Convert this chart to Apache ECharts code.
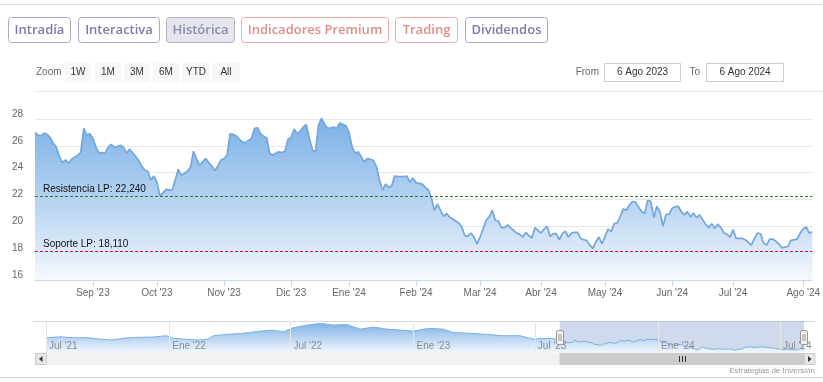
<!DOCTYPE html>
<html><head><meta charset="utf-8">
<script src="https://cdn.jsdelivr.net/npm/echarts@6/dist/echarts.min.js"></script>
<style>html,body{margin:0;padding:0;background:#fff}#c{width:823px;height:382px}</style>
</head><body><div id="c"></div>
<script>
// ---------- DATA ----------
const startDate = '2023-08-07';
const endDate = '2024-08-06';
const holidays = ['2023-12-25','2023-12-26','2024-01-01','2024-03-29','2024-04-01','2024-05-01'];
const monthNames = ['Ene','Feb','Mar','Abr','May','Jun','Jul','Ago','Sep','Oct','Nov','Dic'];
const prices = [
27.0,26.8,26.75,26.95,26.85,26.6,26.2,25.9,25.2,24.75,
24.95,24.7,25.0,25.15,25.3,25.5,27.3,26.8,26.9,26.55,
25.9,25.45,25.5,25.45,25.9,26.1,25.9,25.95,26.05,25.9,
25.45,25.75,25.5,25.2,24.9,24.5,24.2,24.1,23.45,23.75,
23.3,22.25,22.5,22.75,22.7,22.7,23.45,24.25,23.8,23.95,
24.1,24.4,25.6,25.0,24.55,24.8,25.05,24.75,24.5,24.15,
24.5,24.95,25.05,25.3,26.9,26.85,26.75,26.5,26.3,26.2,
26.4,26.55,27.3,27.35,26.9,26.7,26.6,25.45,25.3,25.45,
25.55,25.5,25.6,26.5,26.6,27.25,26.9,27.1,27.4,27.6,
26.55,25.7,25.55,27.55,28.05,27.6,27.3,27.35,27.4,27.3,
27.7,27.6,27.5,27.0,25.95,25.45,25.55,25.2,24.8,25.05,
25.0,24.9,24.45,23.45,22.7,23.15,22.9,23.0,23.75,23.7,
23.7,23.7,23.75,23.3,23.6,23.25,23.2,23.15,22.9,22.75,
22.15,21.2,21.65,21.2,20.75,20.95,20.7,20.55,20.4,20.25,
19.95,19.3,19.25,19.5,19.2,18.7,19.2,19.8,20.45,20.7,
21.2,20.45,20.4,19.9,19.9,20.1,19.9,19.7,19.5,19.4,
19.2,19.55,19.3,19.15,19.9,19.7,19.5,19.8,20.0,19.25,
19.45,19.45,19.0,19.45,19.65,19.2,19.5,19.55,19.55,19.1,
19.0,18.95,18.6,18.35,18.85,19.2,18.7,19.25,19.8,19.6,
20.2,20.25,20.75,21.3,21.2,21.6,21.85,21.8,21.45,21.1,
20.95,21.95,21.85,20.65,21.5,21.1,20.0,20.9,20.9,21.35,
21.45,21.5,21.1,20.85,21.1,20.7,21.0,20.65,20.85,20.5,
20.15,19.9,20.2,19.85,20.15,19.9,19.5,19.4,19.2,19.75,
19.1,19.1,19.1,19.0,18.8,18.6,19.1,19.5,19.45,18.75,
18.6,19.05,19.05,18.9,18.7,18.4,18.45,18.5,18.95,19.0,
19.05,19.5,19.8,19.95,19.5,19.6
];
const yMin = 16, yMax = 28, yInterval = 2;
const resistance = 22.24;
const support = 18.11;
const resistanceName = 'Resistencia LP';
const supportName = 'Soporte LP';
// navigator (long history, read from the small overview)
const histDates = ['2021-07-02','2021-07-22','2021-08-10','2021-08-31','2021-09-20','2021-10-07','2021-10-24','2021-11-14','2021-12-08','2021-12-28',
'2022-01-07','2022-01-27','2022-02-16','2022-02-28','2022-03-08','2022-03-28','2022-04-21','2022-05-17','2022-06-05','2022-06-20',
'2022-07-05','2022-07-26','2022-08-15','2022-09-03','2022-09-23','2022-10-13','2022-11-02','2022-11-22','2022-12-12','2023-01-01',
'2023-01-16','2023-01-26','2023-02-14','2023-03-01','2023-03-27','2023-04-21','2023-05-15','2023-06-09','2023-06-29','2023-07-20','2023-08-04'];
const histValues = [29.1,29.9,29.1,29.1,27.9,27.1,28.6,29.4,29.7,30.8,
28.6,27.7,27.1,27.9,30.8,31.9,32.8,34.7,35.6,34.1,
37.5,39.8,41.3,39.8,40.4,36.4,38.1,36.4,35.6,34.7,
36.4,37.0,36.4,33.6,32.8,31.9,30.8,30.8,27.9,28.6,27.9];
const navStart = '2021-07-01';
const navYMin = 16.1, navYMax = 43.3;
const navTickDates = ['2021-07-01','2022-01-01','2022-07-01','2023-01-01','2023-07-01','2024-01-01','2024-07-01'];
const navTickLabels = ["Jul '21","Ene '22","Jul '22","Ene '23","Jul '23","Ene '24","Jul '24"];
const tabs = ['Intradía','Interactiva','Histórica','Indicadores Premium','Trading','Dividendos'];
const tabKinds = ['normal','normal','active','premium','premium','normal'];
const zoomButtons = ['1W','1M','3M','6M','YTD','All'];
const fromLabel = 'From', toLabel = 'To';
const fromText = '6 Ago 2023', toText = '6 Ago 2024';
const credits = 'Estrategias de Inversión';

// ---------- HELPERS ----------
const FONT = '"Liberation Sans", Arial, sans-serif';
function pad(n){return n<10?'0'+n:''+n;}
function fmt(d){return d.getUTCFullYear()+'-'+pad(d.getUTCMonth()+1)+'-'+pad(d.getUTCDate());}
function toTs(s){return new Date(+s.slice(0,4), +s.slice(5,7)-1, +s.slice(8,10)).getTime();}
const dates = [];
for (let d = new Date(startDate+'T00:00:00Z'); fmt(d) <= endDate; d.setUTCDate(d.getUTCDate()+1)) {
  const wd = d.getUTCDay(), s = fmt(d);
  if (wd === 0 || wd === 6 || holidays.includes(s)) continue;
  dates.push(s);
}
function isMonthStart(i){ return i > 0 && dates[i].slice(5,7) !== dates[i-1].slice(5,7); }
function monthLabel(s){ return monthNames[+s.slice(5,7)-1] + " '" + s.slice(2,4); }
function fmtLevel(v){ return v.toFixed(3).replace('.', ','); }

const navData = histDates.map((s,i)=>[toTs(s), histValues[i]])
  .concat(dates.map((s,i)=>[toTs(s), prices[i]]));

const chart = echarts.init(document.getElementById('c'));

// ---------- STATIC UI ----------
const tabGeom = [[8,62],[78,81],[166,68],[241,147],[395,62],[465,82]];
const tabStyle = {
  normal: {fill:'#ffffff', stroke:'#a9a7cb', text:'#7d7aa8'},
  active: {fill:'#e5e5ec', stroke:'#b2b1c8', text:'#8d8cab'},
  premium:{fill:'#ffffff', stroke:'#ebaaa8', text:'#e38b89'}
};
const g = [];
g.push({type:'line', shape:{x1:0,y1:4.5,x2:823,y2:4.5}, style:{stroke:'#dddddd', lineWidth:1}});
tabs.forEach((t,i)=>{
  const [x,w] = tabGeom[i], st = tabStyle[tabKinds[i]];
  g.push({type:'rect', shape:{x:x+0.5,y:17.5,width:w,height:25,r:3}, style:{fill:st.fill, stroke:st.stroke, lineWidth:1}});
  g.push({type:'text', x:x+w/2+0.5, y:30.5, style:{text:t, fill:st.text, fontSize:13, fontWeight:600, fontFamily:'"Open Sans", sans-serif', align:'center', verticalAlign:'middle', textAlign:'center', textVerticalAlign:'middle'}});
});
g.push({type:'text', x:36, y:72.5, style:{text:'Zoom', fill:'#666666', fontSize:10, fontFamily:FONT, verticalAlign:'middle', textVerticalAlign:'middle'}});
const zbCenters = [78,108,137,166,196,226];
zoomButtons.forEach((t,i)=>{
  const w = t.length > 2 ? 28 : 26;
  g.push({type:'rect', shape:{x:zbCenters[i]-w/2,y:63,width:w,height:19,r:2}, style:{fill:'#f7f7f7'}});
  g.push({type:'text', x:zbCenters[i], y:72.5, style:{text:t, fill:'#333333', fontSize:10, fontFamily:FONT, align:'center', verticalAlign:'middle', textAlign:'center', textVerticalAlign:'middle'}});
});
g.push({type:'text', x:599, y:72.5, style:{text:fromLabel, fill:'#666666', fontSize:10, fontFamily:FONT, align:'right', verticalAlign:'middle', textAlign:'right', textVerticalAlign:'middle'}});
g.push({type:'rect', shape:{x:604.5,y:63.5,width:76,height:18}, style:{fill:'#fff', stroke:'#cccccc', lineWidth:1}});
g.push({type:'text', x:642.5, y:72.5, style:{text:fromText, fill:'#333333', fontSize:10, fontFamily:FONT, align:'center', verticalAlign:'middle', textAlign:'center', textVerticalAlign:'middle'}});
g.push({type:'text', x:700, y:72.5, style:{text:toLabel, fill:'#666666', fontSize:10, fontFamily:FONT, align:'right', verticalAlign:'middle', textAlign:'right', textVerticalAlign:'middle'}});
g.push({type:'rect', shape:{x:706.5,y:63.5,width:77,height:18}, style:{fill:'#fff', stroke:'#cccccc', lineWidth:1}});
g.push({type:'text', x:745, y:72.5, style:{text:toText, fill:'#333333', fontSize:10, fontFamily:FONT, align:'center', verticalAlign:'middle', textAlign:'center', textVerticalAlign:'middle'}});
g.push({type:'line', shape:{x1:35,y1:91.5,x2:823,y2:91.5}, style:{stroke:'#e6e6e6', lineWidth:1}});
// navigator outline + scrollbar
g.push({type:'line', shape:{x1:33,y1:321.5,x2:815,y2:321.5}, style:{stroke:'#d9d9d9', lineWidth:1}});
g.push({type:'rect', shape:{x:35,y:353,width:780,height:12}, style:{fill:'#f2f2f2'}});
g.push({type:'rect', shape:{x:35.5,y:353.5,width:11,height:11}, style:{fill:'#e6e6e6', stroke:'#cccccc', lineWidth:1}});
g.push({type:'polygon', shape:{points:[[42.5,356],[42.5,362],[39,359]]}, style:{fill:'#333'}});
g.push({type:'rect', shape:{x:804.5,y:353.5,width:10.5,height:11}, style:{fill:'#e6e6e6', stroke:'#cccccc', lineWidth:1}});
g.push({type:'polygon', shape:{points:[[808,356],[808,362],[811.5,359]]}, style:{fill:'#333'}});
g.push({type:'text', x:815, y:370.5, style:{text:credits, fill:'#999999', fontSize:8, fontFamily:FONT, align:'right', verticalAlign:'middle', textAlign:'right', textVerticalAlign:'middle'}});
g.push({type:'line', shape:{x1:0,y1:377.5,x2:823,y2:377.5}, style:{stroke:'#d0d0d0', lineWidth:1}});

const mainArea = new echarts.graphic.LinearGradient(0,0,0,1,[
  {offset:0, color:'#7cb1e6'},{offset:0.45, color:'#afcff0'},{offset:0.8, color:'#dae8f8'},{offset:1, color:'#f6f9fe'}]);
const navArea = new echarts.graphic.LinearGradient(0,0,0,1,[
  {offset:0, color:'#7fb3e7'},{offset:1, color:'#f4f8fe'}]);

chart.setOption({
  animation:false,
  textStyle:{fontFamily:FONT},
  grid:[
    {left:35, top:119, width:780, height:161, containLabel:false},
    {left:46, top:321, width:758, height:32, containLabel:false}
  ],
  xAxis:[
    {type:'category', gridIndex:0, data:dates, boundaryGap:false,
      axisLine:{show:true, lineStyle:{color:'#ccd6eb'}},
      axisTick:{show:true, length:6, interval:(i)=>isMonthStart(i), lineStyle:{color:'#ccd6eb'}},
      axisLabel:{interval:(i)=>isMonthStart(i), formatter:(v)=>monthLabel(v), color:'#666666', fontSize:10, margin:8, hideOverlap:false},
      splitLine:{show:false}},
    {type:'time', gridIndex:1, min:toTs(navStart), max:toTs(endDate), show:false}
  ],
  yAxis:[
    {type:'value', gridIndex:0, min:yMin, max:yMax, interval:yInterval,
      axisLine:{show:false}, axisTick:{show:false},
      axisLabel:{color:'#666666', fontSize:10, margin:12, verticalAlign:'bottom'},
      splitLine:{lineStyle:{color:'#e6e6e6'}}},
    {type:'value', gridIndex:1, min:navYMin, max:navYMax, show:false, splitLine:{show:false}}
  ],
  series:[
    {type:'line', xAxisIndex:0, yAxisIndex:0, data:prices, symbol:'none', clip:false,
      lineStyle:{color:'#72a7dc', width:1.7}, areaStyle:{color:mainArea, opacity:1},
      markLine:{silent:true, symbol:['none','none'], animation:false,
        data:[
          {yAxis:resistance, lineStyle:{color:'#2c7a2c', type:[3,2], width:1},
            label:{show:true, position:'insideStartTop', formatter:resistanceName+': '+fmtLevel(resistance), color:'#111', fontSize:10, fontFamily:FONT, distance:[8,2]}},
          {yAxis:support, lineStyle:{color:'#d0143f', type:[3,2], width:1},
            label:{show:true, position:'insideStartTop', formatter:supportName+': '+fmtLevel(support), color:'#111', fontSize:10, fontFamily:FONT, distance:[8,2]}}
        ]}},
    {type:'line', xAxisIndex:1, yAxisIndex:1, data:navData, symbol:'none', clip:true,
      lineStyle:{color:'#7cb0e3', width:1}, areaStyle:{color:navArea, opacity:1},
      markLine:{silent:true, symbol:['none','none'], animation:false, label:{show:false},
        lineStyle:{color:'#e6e6e6', type:'solid', width:1},
        data:navTickDates.map(s=>({xAxis:toTs(s)}))},
      markArea:{silent:true, itemStyle:{color:'rgba(102,133,194,0.3)'},
        data:[[{xAxis:toTs(dates[0])},{xAxis:toTs(dates[dates.length-1])}]]}}
  ],
  graphic:g
});

// ---------- dynamic navigator decorations (positions from the library scales) ----------
const selL = chart.convertToPixel({gridIndex:1}, [toTs(dates[0]), navYMin])[0];
const selR = chart.convertToPixel({gridIndex:1}, [toTs(dates[dates.length-1]), navYMin])[0];
const g2 = g.slice();
g2.push({type:'rect', z:5, shape:{x:selL,y:353,width:selR-selL,height:12}, style:{fill:'#cccccc'}});
const mid = Math.round((selL+selR)/2)+0.5;
[-3,0,3].forEach(dx=>g2.push({type:'line', z:6, shape:{x1:mid+dx,y1:356,x2:mid+dx,y2:362}, style:{stroke:'#333', lineWidth:1}}));
[selL, selR].forEach(x=>{
  const hx = Math.round(x)-3.5;
  g2.push({type:'rect', z:10, shape:{x:hx,y:330.5,width:7,height:14,r:1.5}, style:{fill:'#f2f2f2', stroke:'#999999', lineWidth:1}});
  g2.push({type:'line', z:11, shape:{x1:hx+2.5,y1:334,x2:hx+2.5,y2:341}, style:{stroke:'#999', lineWidth:1}});
  g2.push({type:'line', z:11, shape:{x1:hx+4.5,y1:334,x2:hx+4.5,y2:341}, style:{stroke:'#999', lineWidth:1}});
});
navTickDates.forEach((s,i)=>{
  const px = chart.convertToPixel({gridIndex:1}, [toTs(s), navYMin])[0];
  g2.push({type:'text', z:4, x:px+3, y:346.5, style:{text:navTickLabels[i], fill:'#8c8c8c', fontSize:10, fontFamily:FONT, verticalAlign:'middle', textVerticalAlign:'middle'}});
});
chart.setOption({graphic:g2}, {replaceMerge:['graphic']});
</script></body></html>
